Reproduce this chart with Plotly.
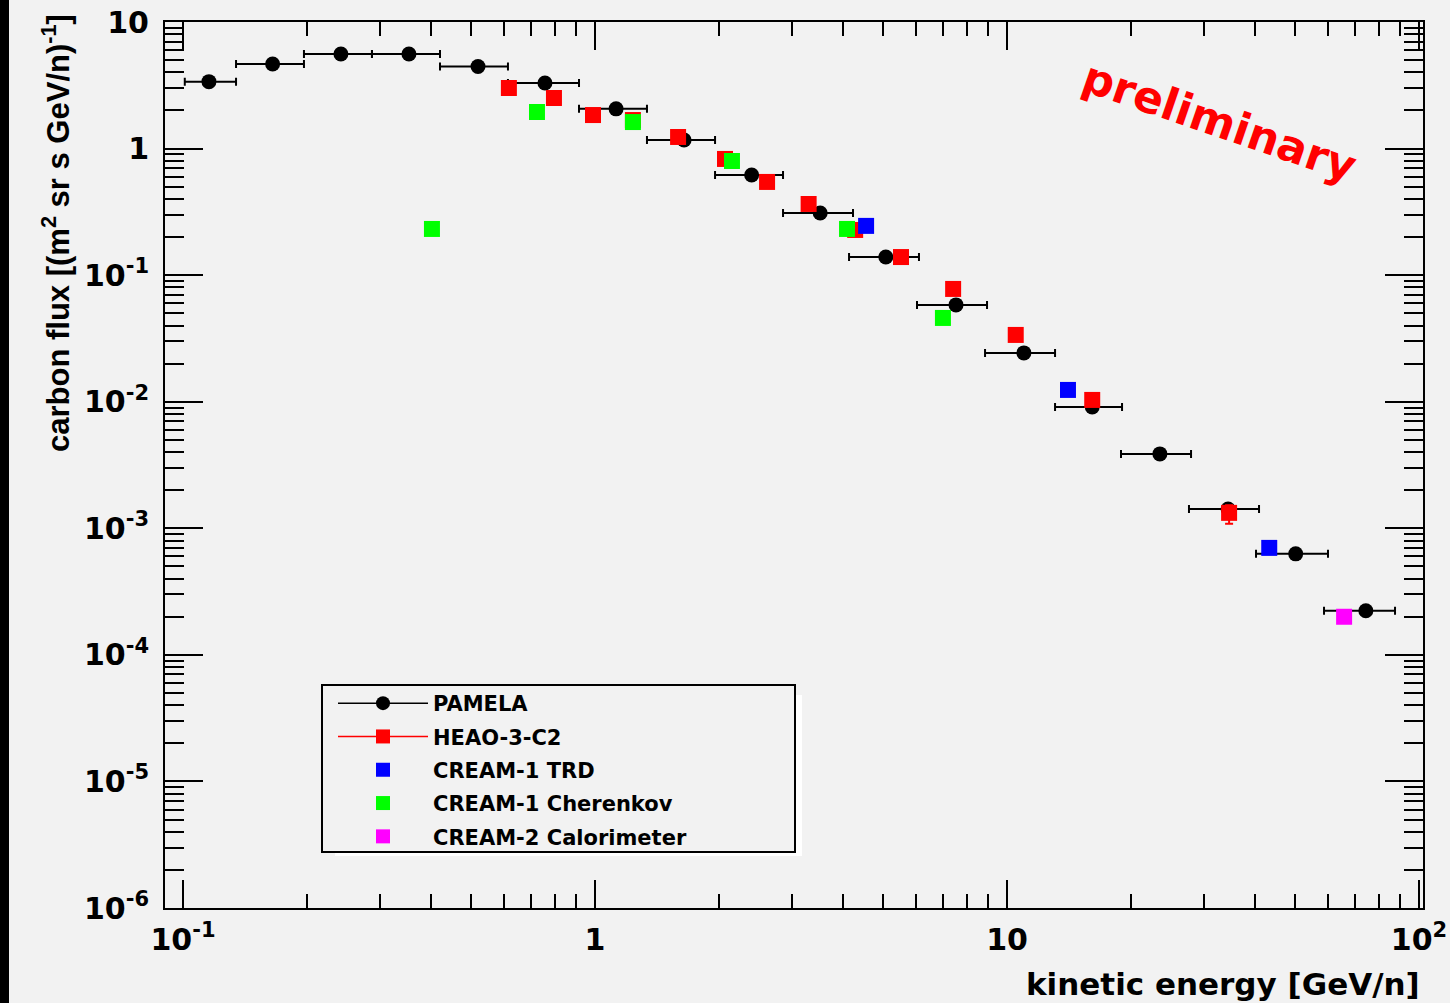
import plotly.graph_objects as go

# ---------------- data ----------------
pamela_E = [0.1156, 0.165, 0.2417, 0.3535, 0.520, 0.756, 1.125, 1.645, 2.40, 3.52,
            5.08, 7.52, 10.99, 16.1, 23.5, 34.4, 50.2, 74.3]
pamela_flux = [3.38, 4.66, 5.59, 5.59, 4.45, 3.30, 2.06, 1.17, 0.619, 0.310,
               0.139, 0.0582, 0.0243, 0.0091, 0.00387, 0.00142, 0.000628, 0.000223]
pamela_bin_lo = [0.101, 0.1345, 0.1966, 0.2875, 0.4205, 0.6148, 0.9145, 1.337, 1.956, 2.86,
                 4.136, 6.047, 8.845, 13.08, 18.91, 27.65, 40.22, 58.81]
pamela_bin_hi = [0.1345, 0.1966, 0.2875, 0.4205, 0.6148, 0.9145, 1.337, 1.956, 2.86, 4.229,
                 6.114, 8.944, 13.08, 19.02, 27.97, 40.9, 60.13, 87.46]

heao_E = [0.618, 0.795, 0.989, 1.236, 1.591, 2.068, 2.616, 3.30, 4.28, 5.53, 7.40, 10.5, 16.1, 34.6]
heao_flux = [3.01, 2.51, 1.84, 1.68, 1.235, 0.828, 0.545, 0.365, 0.2275, 0.139, 0.0778, 0.0337,
             0.01033, 0.001324]
heao_err_lo = [0, 0, 0, 0, 0, 0, 0, 0, 0, 0, 0, 0, 0, 0.00024]
heao_err_hi = [0, 0, 0, 0, 0, 0, 0, 0, 0, 0, 0, 0, 0, 0.0002]

trd_E = [4.55, 14.06, 43.3]
trd_flux = [0.245, 0.01239, 0.0007]

cher_E = [0.402, 0.723, 1.236, 2.15, 4.09, 6.99]
cher_flux = [0.2317, 1.945, 1.62, 0.798, 0.2317, 0.0459]

calo_E = [65.8]
calo_flux = [0.0002]

x_tickvals = [0.1, 1, 10, 100]
x_ticktext = ["10<sup>-1</sup>", "1", "10", "10<sup>2</sup>"]
y_tickvals = [1e-6, 1e-5, 1e-4, 1e-3, 1e-2, 1e-1, 1, 10]
y_ticktext = ["10<sup>-6</sup>", "10<sup>-5</sup>", "10<sup>-4</sup>", "10<sup>-3</sup>",
              "10<sup>-2</sup>", "10<sup>-1</sup>", "1", "10"]

# ---------------- figure ----------------
W, H = 1450, 1003
L, R, T, B = 165, 27, 22, 95
pw, ph = W - L - R, H - T - B


def px_x(p):
    return (p - L) / pw


def px_y(p):
    return (H - B - p) / ph


BG = "#f2f2f2"
FONT = "DejaVu Sans"

fig = go.Figure()

pam_plus = [h - e for h, e in zip(pamela_bin_hi, pamela_E)]
pam_minus = [e - l for e, l in zip(pamela_E, pamela_bin_lo)]

fig.add_trace(go.Scatter(
    x=pamela_E, y=pamela_flux, mode="markers", showlegend=False,
    marker=dict(symbol="circle", size=15, color="black", line=dict(width=0)),
    error_x=dict(type="data", array=pam_plus, arrayminus=pam_minus, symmetric=False,
                 color="black", thickness=2, width=4),
))
fig.add_trace(go.Scatter(
    x=heao_E, y=heao_flux, mode="markers", showlegend=False,
    marker=dict(symbol="square", size=16, color="#ff0000", line=dict(width=0)),
    error_y=dict(type="data", array=heao_err_hi, arrayminus=heao_err_lo, symmetric=False,
                 color="#ff0000", thickness=2, width=4),
))
fig.add_trace(go.Scatter(
    x=cher_E, y=cher_flux, mode="markers", showlegend=False,
    marker=dict(symbol="square", size=16, color="#00ff00", line=dict(width=0)),
))
fig.add_trace(go.Scatter(
    x=trd_E, y=trd_flux, mode="markers", showlegend=False,
    marker=dict(symbol="square", size=16, color="#0000ff", line=dict(width=0)),
))
fig.add_trace(go.Scatter(
    x=calo_E, y=calo_flux, mode="markers", showlegend=False,
    marker=dict(symbol="square", size=16, color="#ff00ff", line=dict(width=0)),
))

# legend-only entries
legend_entries = [
    ("PAMELA", "lines+markers", "circle", "black"),
    ("HEAO-3-C2", "lines+markers", "square", "#ff0000"),
    ("CREAM-1 TRD", "markers", "square", "#0000ff"),
    ("CREAM-1 Cherenkov", "markers", "square", "#00ff00"),
    ("CREAM-2 Calorimeter", "markers", "square", "#ff00ff"),
]
for i, (name, mode, sym, col) in enumerate(legend_entries):
    fig.add_trace(go.Scatter(
        x=[None], y=[None], name=name, mode=mode, legendgroup=f"g{i}",
        line=dict(color=col, width=1.5),
        marker=dict(symbol=sym, size=14, color=col, line=dict(width=0)),
    ))

minor_x = [m * 10 ** d for d in range(-1, 2) for m in range(2, 10)]
minor_y = [m * 10 ** d for d in range(-6, 1) for m in range(2, 10)]

fig.update_xaxes(
    type="log", range=[-1.0437, 2.0097], automargin=False,
    tickmode="array", tickvals=x_tickvals, ticktext=x_ticktext,
    ticks="inside", ticklen=28, tickwidth=1.5, tickcolor="black",
    minor=dict(tickmode="array", tickvals=minor_x, ticks="inside", ticklen=14,
               tickwidth=1.5, tickcolor="black", showgrid=False),
    showline=True, linecolor="black", linewidth=2, mirror="allticks",
    showgrid=False, zeroline=False,
    tickfont=dict(family=FONT, size=30, color="black", weight="bold"),
    ticklabelstandoff=4,
)
fig.update_yaxes(
    type="log", range=[-6, 1], automargin=False,
    tickmode="array", tickvals=y_tickvals, ticktext=y_ticktext,
    ticks="inside", ticklen=38, tickwidth=1.5, tickcolor="black",
    minor=dict(tickmode="array", tickvals=minor_y, ticks="inside", ticklen=19,
               tickwidth=1.5, tickcolor="black", showgrid=False),
    showline=True, linecolor="black", linewidth=2, mirror="allticks",
    showgrid=False, zeroline=False,
    tickfont=dict(family=FONT, size=30, color="black", weight="bold"),
    ticklabelstandoff=8,
)

shapes = [
    # dark strip at the very left edge
    dict(type="rect", xref="paper", yref="paper", x0=px_x(0), x1=px_x(9), y0=px_y(H), y1=px_y(0),
         fillcolor="black", line=dict(width=0), layer="below"),
    # legend shadow and box
    dict(type="rect", xref="paper", yref="paper", x0=px_x(335), x1=px_x(802), y0=px_y(856), y1=px_y(695),
         fillcolor="white", line=dict(width=0), layer="above"),
    dict(type="rect", xref="paper", yref="paper", x0=px_x(322), x1=px_x(795), y0=px_y(852), y1=px_y(685),
         fillcolor=BG, line=dict(color="black", width=2), layer="above"),
]

annotations = [
    dict(text="carbon flux [(m<sup>2</sup> sr s GeV/n)<sup>-1</sup>]", textangle=-90,
         xref="paper", yref="paper", x=px_x(56), y=px_y(12), xanchor="center", yanchor="top",
         showarrow=False, font=dict(family="Liberation Sans", size=31, color="black", weight="bold")),
    dict(text="kinetic energy [GeV/n]", xref="paper", yref="paper",
         x=px_x(1422), y=px_y(984), xanchor="right", yanchor="middle", showarrow=False,
         font=dict(family=FONT, size=31, color="black", weight="bold")),
    dict(text="preliminary", textangle=19, xref="paper", yref="paper",
         x=px_x(1220), y=px_y(121), xanchor="center", yanchor="middle", showarrow=False,
         font=dict(family=FONT, size=44, color="#ff0000", weight="bold")),
]

fig.update_layout(
    width=W, height=H,
    margin=dict(l=L, r=R, t=T, b=B, pad=0, autoexpand=False),
    paper_bgcolor=BG, plot_bgcolor=BG,
    shapes=shapes, annotations=annotations,
    showlegend=True,
    legend=dict(x=px_x(333), y=px_y(683), xanchor="left", yanchor="top",
                bgcolor="rgba(0,0,0,0)", borderwidth=0, itemwidth=90,
                tracegroupgap=3, traceorder="grouped",
                font=dict(family=FONT, size=21, color="black", weight="bold")),
)

fig.write_html("out.html")
